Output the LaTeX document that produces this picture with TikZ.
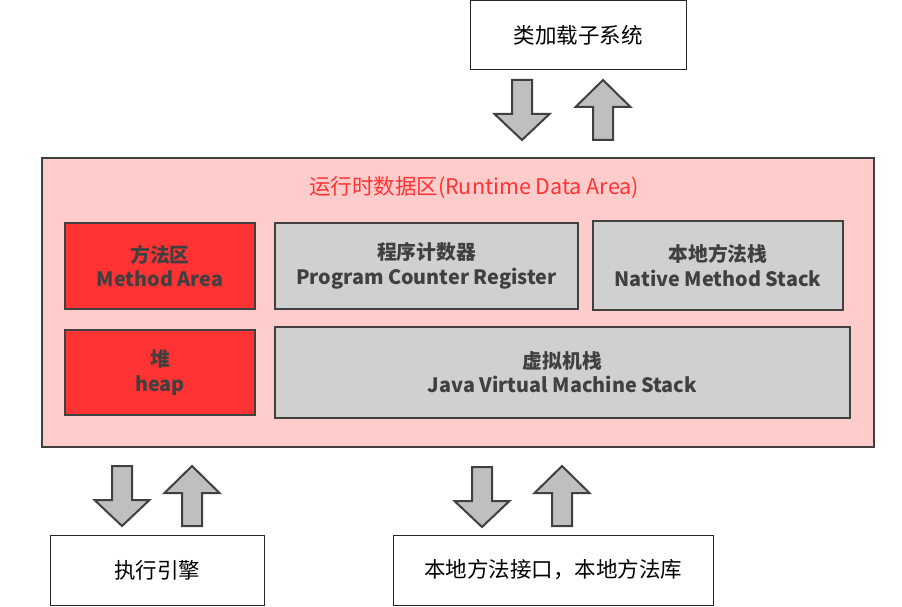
\documentclass[tikz,border=0pt]{standalone}
\usepackage{fontspec}
\setmainfont{Noto Sans CJK SC}
\definecolor{edge}{HTML}{404040}
\definecolor{pinkbg}{HTML}{FFCCCC}
\definecolor{redbox}{HTML}{FF3333}
\definecolor{graybox}{HTML}{D0D0D0}
\definecolor{arrfill}{HTML}{BFBFBF}
\definecolor{titlered}{HTML}{FF3333}
\begin{document}
\begin{tikzpicture}[x=1pt,y=-1pt,
  outerbox/.style={draw=black!85,line width=1pt,fill=white,inner sep=0pt,font=\fontsize{21.5}{25}\selectfont},
  inbox/.style={draw=edge,line width=2pt,inner sep=0pt,align=center,text=edge,font=\bfseries\fontsize{19.8}{24.5}\selectfont},
  blockarrow/.style={draw=edge,line width=2pt,fill=arrfill,line join=miter},
  pics/downarr/.style={code={\draw[blockarrow] (-10,0) -- (10,0) -- (10,34) -- (27.5,34) -- (0,60) -- (-27.5,34) -- (-10,34) -- cycle;}},
  pics/uparr/.style={code={\draw[blockarrow] (-10,60) -- (10,60) -- (10,27) -- (27.5,27) -- (0,0) -- (-27.5,27) -- (-10,27) -- cycle;}}
]
\useasboundingbox (0,0) rectangle (902,607);
\node[outerbox,minimum width=216pt,minimum height=69pt] (cls) at (578,35.5) {类加载子系统};
\node[draw=edge,line width=2pt,fill=pinkbg,minimum width=832pt,minimum height=289pt,inner sep=0pt] (rda) at (458,302.5) {};
\node[text=titlered,font=\fontsize{21.5}{25}\selectfont] (title) at (474,188) {运行时数据区(Runtime Data Area)};
\node[inbox,fill=redbox,minimum width=190pt,minimum height=86pt] (ma) at (160,266) {方法区\\Method Area};
\node[inbox,fill=graybox,minimum width=303pt,minimum height=86pt] (pc) at (426.5,266) {程序计数器\\Program Counter Register};
\node[inbox,fill=graybox,minimum width=250pt,minimum height=89pt] (nms) at (718,265.5) {本地方法栈\\Native Method Stack};
\node[inbox,fill=redbox,minimum width=190pt,minimum height=85pt] (heap) at (160,372.5) {堆\\heap};
\node[inbox,fill=graybox,minimum width=575pt,minimum height=91pt] (jvm) at (562.5,372) {虚拟机栈\\Java Virtual Machine Stack};
\node[outerbox,minimum width=214pt,minimum height=70pt] (exe) at (157,570) {执行引擎};
\node[outerbox,minimum width=320pt,minimum height=70pt] (nlib) at (553,570) {本地方法接口，本地方法库};
\pic at (522,80) {downarr};
\pic at (603,80) {uparr};
\pic at (122,466) {downarr};
\pic at (192,466) {uparr};
\pic at (482,467) {downarr};
\pic at (562,466) {uparr};
\end{tikzpicture}
\end{document}
